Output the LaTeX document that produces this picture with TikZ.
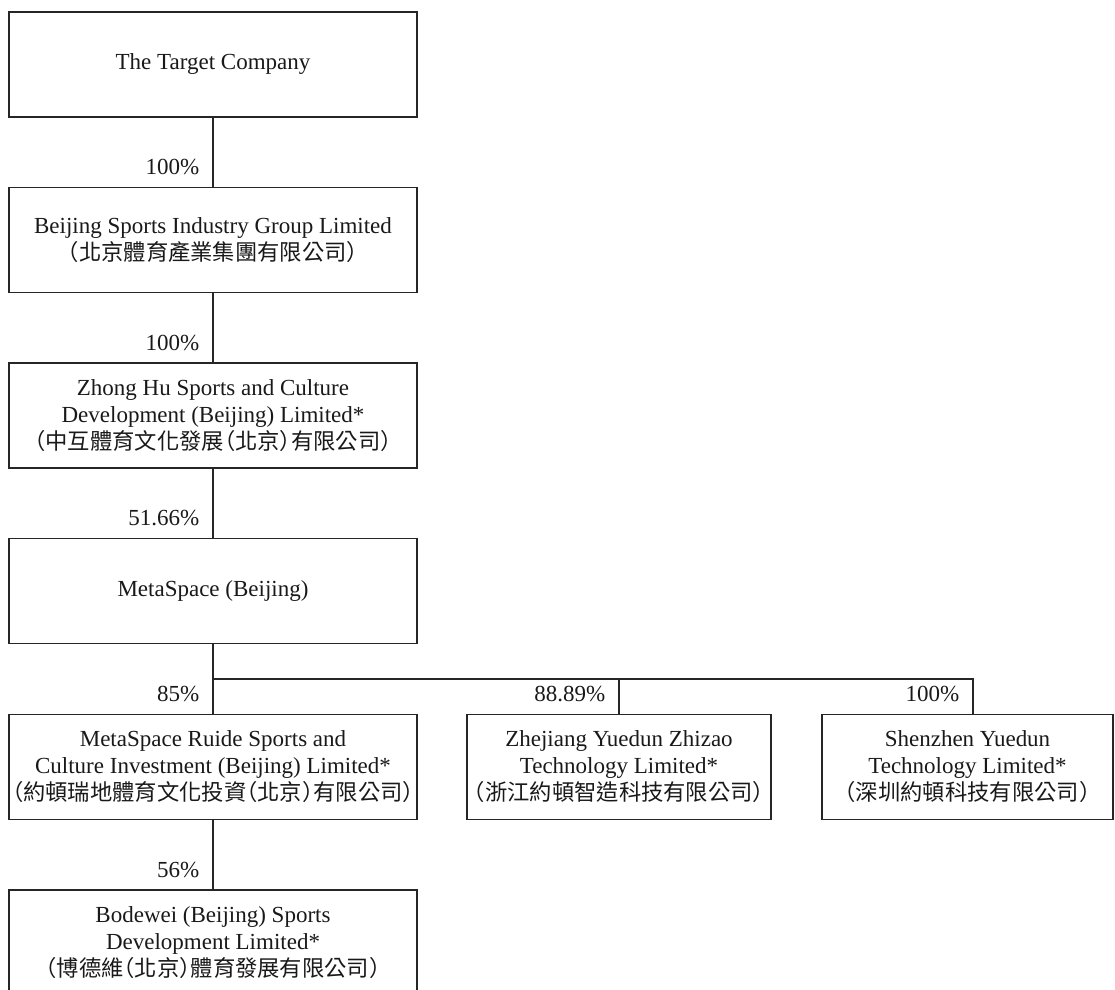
\documentclass[tikz,border=0pt]{standalone}
\usepackage{fontspec}
\setmainfont{Liberation Serif}
\newfontfamily\cjk[RawFeature=+halt,Scale=0.97]{Noto Sans CJK TC}
\usetikzlibrary{calc}
\tikzset{>=latex}
\tikzset{font=\fontsize{11.5}{13.5}\selectfont}

\begin{document}
\begin{tikzpicture}[x=0.5pt,y=-0.5pt,
    company/.style={draw=black!85, line width=0.7pt, align=center,
      inner sep=0pt, minimum width=204pt, minimum height=52.5pt,
      text=black!90},
    link/.style={draw=black!85, line width=0.7pt},
    pct/.style={anchor=base east, inner sep=0pt, xshift=-6.5pt, yshift=6pt,
      text=black!90}]
  \useasboundingbox (0,0) rectangle (1115,990);
  % main chain
  \node[company] (target) at (213,64.5) {The Target Company};
  \node[company] (bsig) at (213,240)
    {Beijing Sports Industry Group Limited\\{\cjk （北京體育產業集團有限公司）}};
  \node[company] (zhonghu) at (213,415.5)
    {Zhong Hu Sports and Culture\\Development (Beijing) Limited*\\{\cjk （中互體育文化發展（北京）有限公司）}};
  \node[company] (meta) at (213,591) {MetaSpace (Beijing)};
  % subsidiaries
  \node[company] (ruide) at (213,767)
    {MetaSpace Ruide Sports and\\Culture Investment (Beijing) Limited*\\{\cjk （約頓瑞地體育文化投資（北京）有限公司）}};
  \node[company, minimum width=152pt] (zhejiang) at (619,767)
    {Zhejiang Yuedun Zhizao\\Technology Limited*\\{\cjk （浙江約頓智造科技有限公司）}};
  \node[company, minimum width=145.5pt] (shenzhen) at (967.5,767)
    {Shenzhen Yuedun\\Technology Limited*\\{\cjk （深圳約頓科技有限公司）}};
  \node[company] (bodewei) at (213,942.5)
    {Bodewei (Beijing) Sports\\Development Limited*\\{\cjk （博德維（北京）體育發展有限公司）}};

  \draw[link] (target) -- (bsig.north) node[pct] {100\%};
  \draw[link] (bsig) -- (zhonghu.north) node[pct] {100\%};
  \draw[link] (zhonghu) -- (meta.north) node[pct] {51.66\%};
  \coordinate (bus) at (973,679);
  \draw[link] (meta.south) -- (meta.south |- bus) -- (bus)
    -- (bus |- shenzhen.north) node[pct] {100\%};
  \draw[link] (meta.south |- bus) -- (ruide.north) node[pct] {85\%};
  \draw[link] (zhejiang.north |- bus) -- (zhejiang.north) node[pct] {88.89\%};
  \draw[link] (ruide) -- (bodewei.north) node[pct] {56\%};
\end{tikzpicture}
\end{document}
